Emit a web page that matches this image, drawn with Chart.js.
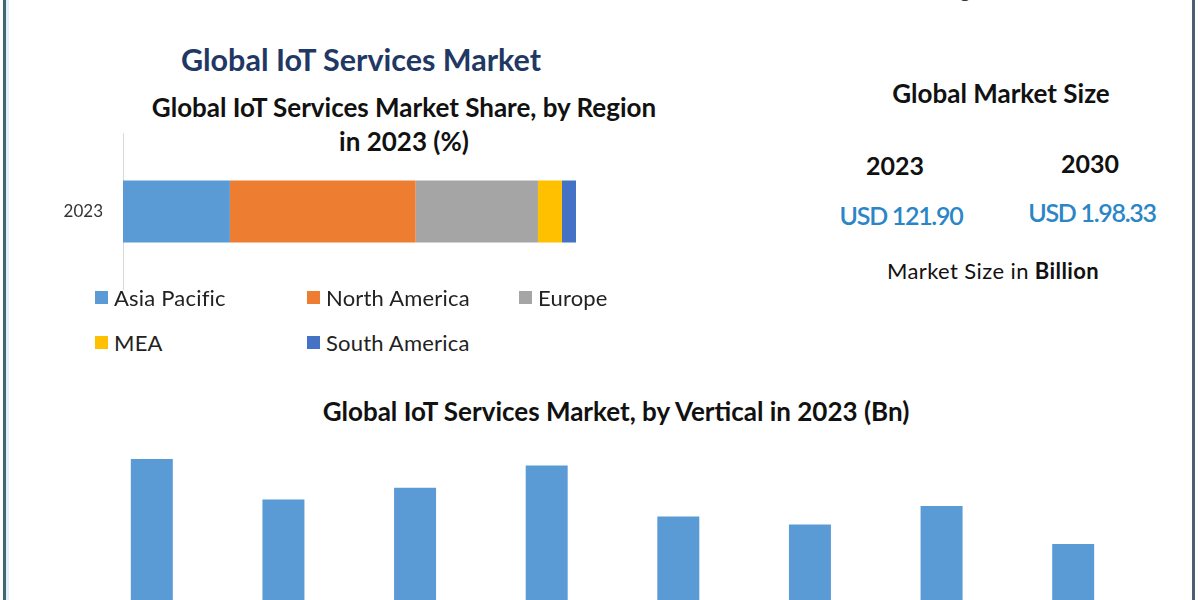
<!DOCTYPE html>
<html>
<head>
<meta charset="utf-8">
<script src="https://cdn.jsdelivr.net/npm/chart.js@4.4.1/dist/chart.umd.min.js"></script>
<style>
  html, body { margin:0; padding:0; width:1200px; height:600px; overflow:hidden; background:#fff; font-family: Lato, "Open Sans", sans-serif; }
  .t { position:absolute; transform:translate(-50%,-50%); white-space:nowrap; }
  .b { font-weight:bold; }
  #legend { position:absolute; left:95px; top:284px; width:640px; }
  .li { position:absolute; font-size:22px; letter-spacing:0.2px; color:#222; white-space:nowrap; display:flex; align-items:center; }
  .sw { width:13px; height:13px; margin-right:6px; display:inline-block; }
  canvas { position:absolute; }
</style>
</head>
<body>
<div style="position:absolute;left:3px;top:0;width:3px;height:600px;background:#3d6977;"></div>
<div style="position:absolute;left:6px;top:0;width:3px;height:600px;background:#e3f1f8;"></div>
<div style="position:absolute;left:1192px;top:0;width:3px;height:600px;background:#4b5f72;"></div>
<div class="t" style="left:965px;top:-10px;font-size:20px;color:#333;">g</div>

<div class="t b" style="left:361px;top:59px;font-size:30.5px;color:#1f3864;">Global IoT Services Market</div>
<div class="t b" style="left:404px;top:107px;font-size:26px;color:#111;">Global IoT Services Market Share, by Region</div>
<div class="t b" style="left:404px;top:141px;font-size:26px;color:#111;">in 2023 (%)</div>

<div class="t b" style="left:1001px;top:93px;font-size:26px;color:#111;">Global Market Size</div>
<div class="t b" style="left:895px;top:165px;font-size:25px;color:#111;">2023</div>
<div class="t b" style="left:1090px;top:163px;font-size:25px;color:#111;">2030</div>
<div class="t" style="left:901px;top:215px;font-size:25px;color:#2a86c6;letter-spacing:-1.3px;font-weight:600;">USD 121.90</div>
<div class="t" style="left:1092px;top:212px;font-size:25px;color:#2a86c6;letter-spacing:-1.3px;font-weight:600;">USD 1.98.33</div>
<div class="t" style="left:993px;top:270px;font-size:22px;letter-spacing:0.4px;color:#111;">Market Size in <b>Billion</b></div>

<div class="t b" style="left:616px;top:411px;font-size:26px;color:#111;">Global IoT Services Market, by Vertical in 2023 (Bn)</div>

<canvas id="c1" width="576" height="157" style="left:0;top:133px;"></canvas>
<div id="legend"></div>
<canvas id="c2" width="1200" height="262" style="left:0;top:438px;"></canvas>

<script>
// ---- Data: regional share 2023 (%) ----
const regionYears = ["2023"];
const regionNames = ["Asia Pacific", "North America", "Europe", "MEA", "South America"];
const regionColors = ["#5b9bd5", "#ed7d31", "#a5a5a5", "#ffc000", "#4472c4"];
const asiaPacific = [23.6];
const northAmerica = [41.0];
const europe = [27.0];
const mea = [5.3];
const southAmerica = [3.1];

// ---- Data: by vertical 2023 (Bn) ----
const verticals = ["BFSI", "Healthcare", "Manufacturing", "IT & Telecom", "Retail", "Transportation", "Energy & Utilities", "Others"];
const verticalValues = [18.4, 15.3, 16.2, 17.9, 14.0, 13.4, 14.8, 11.9];

const regionSeries = [asiaPacific, northAmerica, europe, mea, southAmerica];

new Chart(document.getElementById('c1'), {
  type: 'bar',
  data: {
    labels: regionYears,
    datasets: regionSeries.map((d, i) => ({
      label: regionNames[i], data: d, backgroundColor: regionColors[i],
      barPercentage: 0.395, categoryPercentage: 1, borderWidth: 0
    }))
  },
  options: {
    indexAxis: 'y', responsive: false, animation: false,
    layout: { padding: 0 },
    plugins: { legend: { display: false }, tooltip: { enabled: false } },
    scales: {
      x: { display: false, stacked: true, min: 0, max: 100 },
      y: {
        stacked: true,
        afterFit: (s) => { s.width = 123; s.paddingTop = 0; s.paddingBottom = 0; },
        grid: { display: false, drawTicks: false },
        border: { display: true, color: '#d9d9d9', width: 1 },
        ticks: { padding: 20, color: '#333', font: { family: 'Lato', size: 17 } }
      }
    }
  }
});

// HTML legend in 3 columns, built from the region arrays
const lg = document.getElementById('legend');
regionNames.forEach((n, i) => {
  const d = document.createElement('div');
  d.className = 'li';
  d.style.left = (i % 3) * 212 + 'px';
  d.style.top = Math.floor(i / 3) * 45 + 'px';
  d.innerHTML = '<span class="sw" style="background:' + regionColors[i] + '"></span>' + n;
  lg.appendChild(d);
});

new Chart(document.getElementById('c2'), {
  type: 'bar',
  data: {
    labels: verticals,
    datasets: [{ label: 'Vertical', data: verticalValues, backgroundColor: '#5b9bd5',
      barPercentage: 0.319, categoryPercentage: 1, borderWidth: 0 }]
  },
  options: {
    responsive: false, animation: false,
    layout: { padding: { left: 86, right: 61, top: 0, bottom: 0 } },
    plugins: { legend: { display: false }, tooltip: { enabled: false } },
    scales: {
      x: { display: false },
      y: { display: false, min: 0, max: 20 }
    }
  }
});
</script>
</body>
</html>
